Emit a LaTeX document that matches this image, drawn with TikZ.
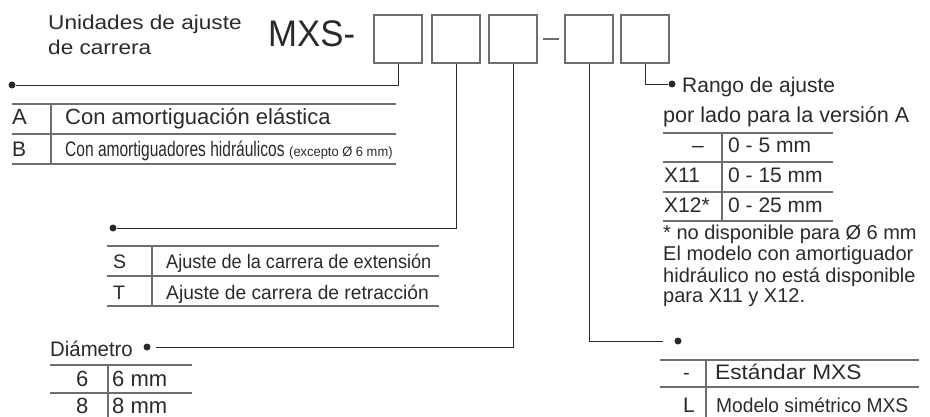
\documentclass[tikz,border=0pt]{standalone}
\usepackage{fontspec}
\usepackage{graphicx}
\setmainfont{Liberation Sans}
\definecolor{ink}{HTML}{2A2A2A}
\definecolor{rulegray}{HTML}{6E6E6E}
\newcommand{\fs}[1]{\fontsize{#1}{#1}\selectfont}
\newcommand{\sx}[2]{\scalebox{#1}[1]{#2}}
\tikzset{
  codebox/.style={draw=rulegray, line width=1.2pt, minimum width=48pt,
                  minimum height=48pt, inner sep=0pt},
  lead/.style={draw=ink, line width=0.9pt},
  tabrule/.style={draw=rulegray, line width=1.2pt},
  bullet/.style={circle, fill=ink, inner sep=0pt, minimum size=7pt},
  txt/.style={inner sep=0pt, anchor=base west, text=ink},
}

\begin{document}
\begin{tikzpicture}[x=1pt, y=-1pt]
    \useasboundingbox (0,0) rectangle (930,417);
    % title and code boxes
    \node[txt, font=\fs{20}] (title1) at (48,29.3) {\sx{1.13}{Unidades de ajuste}};
    \node[txt, font=\fs{20}] (title2) at (48,55) {\sx{1.13}{de carrera}};
    \node[txt, font=\fs{37}] (mxs) at (268,46.7) {\sx{0.94}{MXS-}};
    \node[codebox] (b1) at (398,39) {};
    \node[codebox] (b2) at (456,39) {};
    \node[codebox] (b3) at (513,39) {};
    \node[codebox] (b4) at (589,39) {};
    \node[codebox] (b5) at (645,39) {};
    \draw[tabrule, shorten <=5pt, shorten >=5pt] (b3.east) -- (b4.west);
    % bullets and leads
    \node[bullet] (d1) at (12,85) {};
    \node[bullet] (d2) at (113,228) {};
    \node[bullet, outer sep=5pt] (d3) at (147,347) {};
    \node[bullet, outer sep=12pt] (d4) at (678,341) {};
    \node[bullet] (d5) at (672,84) {};
    \draw[lead] (b1.south) |- (d1);
    \draw[lead] (b2.south) |- (d2);
    \draw[lead] (b3.south) |- (d3);
    \draw[lead] (b4.south) |- (d4);
    \draw[lead] (b5.south) |- (d5);
    % version A / B
    \draw[tabrule] (12,104) -- (396,104) (12,134) -- (396,134) (12,164) -- (396,164);
    \draw[tabrule] (51,104) -- (51,164);
    \node[txt, font=\fs{22}] (ka) at (12,125) {A};
    \node[txt, font=\fs{22}] (va) at (65,125) {Con amortiguación elástica};
    \node[txt, font=\fs{21}] (kb) at (12,157) {B};
    \node[txt, font=\fs{21}] (vb) at (65,157) {\sx{0.74}{Con amortiguadores hidráulicos}};
    \node[txt, font=\fs{13.6}] (vbnote) at (289,157) {\sx{0.95}{(excepto Ø 6 mm)}};
    % stroke adjustment S / T
    \draw[tabrule] (107,246) -- (439,246) (107,276) -- (439,276) (107,306) -- (439,306);
    \draw[tabrule] (152,246) -- (152,306);
    \node[txt, font=\fs{19.5}] (ks) at (113,269) {S};
    \node[txt, font=\fs{19.5}] (vs) at (166,269) {\sx{0.93}{Ajuste de la carrera de extensión}};
    \node[txt, font=\fs{19.5}] (kt) at (113,299) {T};
    \node[txt, font=\fs{19.5}] (vt) at (166,299) {\sx{0.985}{Ajuste de carrera de retracción}};
    % bore size
    \node[txt, font=\fs{21}] (dia) at (50,356) {\sx{0.97}{Diámetro}};
    \draw[tabrule] (50,365) -- (192,365) (50,393) -- (192,393);
    \draw[tabrule] (108,365) -- (108,417);
    \node[txt, font=\fs{22}] (k6) at (76,386) {6};
    \node[txt, font=\fs{22}] (v6) at (112,386) {6 mm};
    \node[txt, font=\fs{22}] (k8) at (76,413) {8};
    \node[txt, font=\fs{22}] (v8) at (112,413) {8 mm};
    % adjustment range
    \node[txt, font=\fs{21}] (rng1) at (682,93) {Rango de ajuste};
    \node[txt, font=\fs{21.6}] (rng2) at (663,123) {por lado para la versión A};
    \draw[tabrule] (663,133) -- (833,133) (663,162) -- (833,162)
                   (663,192) -- (833,192) (663,221) -- (833,221);
    \draw[tabrule] (722,133) -- (722,221);
    \node[txt, font=\fs{21}, anchor=base] (kr0) at (698,153) {–};
    \node[txt, font=\fs{21}] (vr0) at (728,153) {0 - 5 mm};
    \node[txt, font=\fs{21}] (kr1) at (664,183) {X11};
    \node[txt, font=\fs{21}] (vr1) at (728,183) {0 - 15 mm};
    \node[txt, font=\fs{21}] (kr2) at (664,212) {X12*};
    \node[txt, font=\fs{21}] (vr2) at (728,212) {0 - 25 mm};
    \node[txt, font=\fs{20}] (fn1) at (663,240) {* no disponible para Ø 6 mm};
    \node[txt, font=\fs{20}] (fn2) at (663,261) {El modelo con amortiguador};
    \node[txt, font=\fs{20}] (fn3) at (663,282) {hidráulico no está disponible};
    \node[txt, font=\fs{20}] (fn4) at (663,302) {para X11 y X12.};
    % model
    \draw[tabrule] (660,360) -- (919,360) (660,387) -- (919,387);
    \draw[tabrule] (706,360) -- (706,417);
    \node[txt, font=\fs{20}] (km0) at (683,379) {-};
    \node[txt, font=\fs{21}] (vm0) at (715,379) {\sx{1.08}{Estándar MXS}};
    \node[txt, font=\fs{21}] (km1) at (683,412) {L};
    \node[txt, font=\fs{20}] (vm1) at (716,412) {\sx{0.96}{Modelo simétrico MXS}};
\end{tikzpicture}
\end{document}
